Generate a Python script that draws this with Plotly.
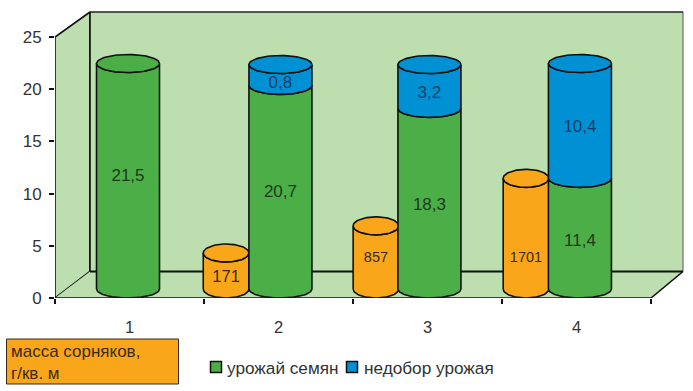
import numpy as np
import plotly.graph_objects as go

# ---- data ----
categories = ["1", "2", "3", "4"]
green_heights = [21.6, 19.5, 17.3, 10.6]
blue_heights = [0.0, 2.0, 4.2, 11.0]
orange_heights = [None, 3.45, 6.05, 10.6]
green_labels = ["21,5", "20,7", "18,3", "11,4"]
blue_labels = ["", "0,8", "3,2", "10,4"]
orange_labels = ["", "171", "857", "1701"]
legend_names = ["урожай семян", "недобор урожая"]
y_ticks = [0, 5, 10, 15, 20, 25]

# ---- layout constants, in axis units ----
PX_X, PX_Y = 149.0, 10.44          # pixels per axis unit
L, T, B = 55, 10, 93
PW, PH = 630, 288
X_MAX = PW / PX_X
Y_MAX = PH / PX_Y
RY = 9 / PX_Y                      # ellipse semi-minor
BASE = RY
GREEN_X = [0.49, 1.513, 2.513, 3.523]
ORANGE_X = [None, 1.148, 2.154, 3.161]
GREEN_RX = 31.5 / PX_X
ORANGE_RX = 22.8 / PX_X
BACK_L, BACK_R, FLOOR_R = 35 / PX_X, 628 / PX_X, 4.0
BACK_Y0 = 26.5 / PX_Y
BACK_Y1 = 25 + 25 / PX_Y

GREEN, BLUE, ORANGE, WALL = "#4cae46", "#0091d5", "#faa61b", "#bddfb0"
LINE = "#111111"
TXT = "#333333"
FONT = "Liberation Sans"

fig = go.Figure()


def px(x):
    return (x - L) / PW


def py(y):
    return (T + PH - y) / PH


def poly(xs, ys, fill, width=1.6, line=LINE):
    fig.add_trace(go.Scatter(
        x=list(xs), y=list(ys), mode="lines", fill="toself", fillcolor=fill,
        line=dict(color=line, width=width), hoverinfo="skip", showlegend=False,
        cliponaxis=False, xaxis="x", yaxis="y"))


def polyline(xs, ys, width=1.6, color=LINE):
    fig.add_trace(go.Scatter(
        x=xs, y=ys, mode="lines", line=dict(color=color, width=width),
        hoverinfo="skip", showlegend=False, cliponaxis=False, xaxis="x", yaxis="y"))


def segment(cx, rx, v0, v1, fill):
    """Cylinder side between two heights, bounded by the front arcs."""
    t = np.linspace(np.pi, 2 * np.pi, 40)
    xs = np.concatenate([cx + rx * np.cos(t), cx + rx * np.cos(t[::-1])])
    ys = np.concatenate([BASE + v0 + RY * np.sin(t), BASE + v1 + RY * np.sin(t[::-1])])
    poly(np.append(xs, xs[0]), np.append(ys, ys[0]), fill)


def top(cx, rx, v, fill):
    t = np.linspace(0, 2 * np.pi, 80)
    poly(cx + rx * np.cos(t), BASE + v + RY * np.sin(t), fill)


# walls and floor
poly([0, BACK_L, BACK_L, 0, 0], [0, BACK_Y0, BACK_Y1, 25, 0], WALL, 1.6)
poly([0, FLOOR_R, BACK_R, BACK_L, 0], [0, 0, BACK_Y0, BACK_Y0, 0], WALL, 0)
poly([BACK_L, BACK_R, BACK_R, BACK_L, BACK_L],
     [BACK_Y0, BACK_Y0, BACK_Y1, BACK_Y1, BACK_Y0], WALL, 0)
polyline([BACK_R, BACK_R], [BACK_Y0, BACK_Y1], 1.0, "#555555")
polyline([BACK_L, BACK_R], [BACK_Y1, BACK_Y1], 1.3, "#222222")
polyline([BACK_L, BACK_L], [BACK_Y0, BACK_Y1], 1.6)
polyline([BACK_L, BACK_R], [BACK_Y0, BACK_Y0], 1.8)
polyline([0, FLOOR_R, BACK_R], [0, 0, BACK_Y0], 1.6)

# orange cylinders
for i, h in enumerate(orange_heights):
    if h is None:
        continue
    segment(ORANGE_X[i], ORANGE_RX, 0, h, ORANGE)
    top(ORANGE_X[i], ORANGE_RX, h, ORANGE)

# stacked cylinders
for i, g in enumerate(green_heights):
    b = blue_heights[i]
    segment(GREEN_X[i], GREEN_RX, 0, g, GREEN)
    if b > 0:
        segment(GREEN_X[i], GREEN_RX, g, g + b, BLUE)
        top(GREEN_X[i], GREEN_RX, g + b, BLUE)
    else:
        top(GREEN_X[i], GREEN_RX, g, GREEN)

# value labels (vertical placement follows the picture)
green_text_y = [11.62, 10.05, 8.85, 5.42]
blue_text_y = [None, 20.5, 19.6, 16.3]
orange_text_y = [None, 1.92, 3.8, 3.8]
orange_text_size = [16, 16.5, 14.5, 14.5]


def text_trace(xs, ys, labels, color, size):
    fig.add_trace(go.Scatter(
        x=xs, y=ys, text=labels, mode="text", showlegend=False, hoverinfo="skip",
        textfont=dict(family=FONT, size=size, color=color), textposition="middle center",
        cliponaxis=False, xaxis="x", yaxis="y"))


text_trace(GREEN_X, green_text_y, green_labels, "#1c3b1c", 17)
text_trace(GREEN_X, blue_text_y, blue_labels, "#0c3f66", 17)
text_trace(ORANGE_X, orange_text_y, orange_labels, "#3b2a12", orange_text_size)

# invisible trace on the label axis
fig.add_trace(go.Scatter(x=[0.5, 1.5, 2.5, 3.5], y=[None] * 4, xaxis="x2", yaxis="y",
                         showlegend=False, hoverinfo="skip"))

# legend key: swatch plus text, placed as in the picture
legend_swatch_x = [210.5, 346.5]
legend_text_x = [226, 363]
shapes = [dict(type="rect", xref="paper", yref="paper", layer="above",
               x0=px(6.5), x1=px(178.5), y0=py(339), y1=py(384),
               fillcolor=ORANGE, line=dict(color="#3a2a10", width=1))]
annotations = [dict(
    xref="paper", yref="paper", x=px(10), y=py(362),
    xanchor="left", yanchor="middle", align="left", showarrow=False,
    text="масса сорняков,<br>г/кв. м", borderpad=0,
    font=dict(family=FONT, size=17, color="#3b2a12"))]
for name, col, sx, tx in zip(legend_names, (GREEN, BLUE), legend_swatch_x, legend_text_x):
    shapes.append(dict(type="rect", xref="paper", yref="paper", layer="above",
                       x0=px(sx), x1=px(sx + 11), y0=py(361.5), y1=py(372.5),
                       fillcolor=col, line=dict(color=LINE, width=1.5)))
    annotations.append(dict(xref="paper", yref="paper", x=px(tx), y=py(368),
                            xanchor="left", yanchor="middle", showarrow=False,
                            text=name, borderpad=0,
                            font=dict(family=FONT, size=17.2, color=TXT)))

fig.update_layout(
    width=693, height=391, autosize=False, showlegend=False,
    margin=dict(l=L, r=693 - L - PW, t=T, b=B),
    paper_bgcolor="white", plot_bgcolor="white",
    font=dict(family=FONT, size=16, color=TXT),
    xaxis=dict(range=[0, X_MAX], tickvals=[0, 1, 2, 3, 4], ticktext=[""] * 5,
               ticks="outside", ticklen=5, tickcolor=LINE, tickwidth=1.5,
               showgrid=False, zeroline=False, showline=False),
    xaxis2=dict(range=[0, X_MAX], overlaying="x", side="bottom",
                tickvals=[0.5, 1.5, 2.5, 3.5], ticktext=categories,
                ticks="outside", ticklen=14, tickcolor="rgba(0,0,0,0)",
                showgrid=False, zeroline=False, showline=False,
                tickfont=dict(family=FONT, size=16.5, color=TXT)),
    yaxis=dict(range=[0, Y_MAX], tickvals=y_ticks, ticks="outside", ticklen=5,
               tickcolor=LINE, tickwidth=1.5, showgrid=False, zeroline=False,
               showline=False, ticklabelstandoff=4,
               tickfont=dict(family=FONT, size=17, color=TXT)),
    shapes=shapes,
    annotations=annotations,
)

fig.write_html("out.html", config={"displayModeBar": False},
               post_script="document.body.style.margin='0';")
